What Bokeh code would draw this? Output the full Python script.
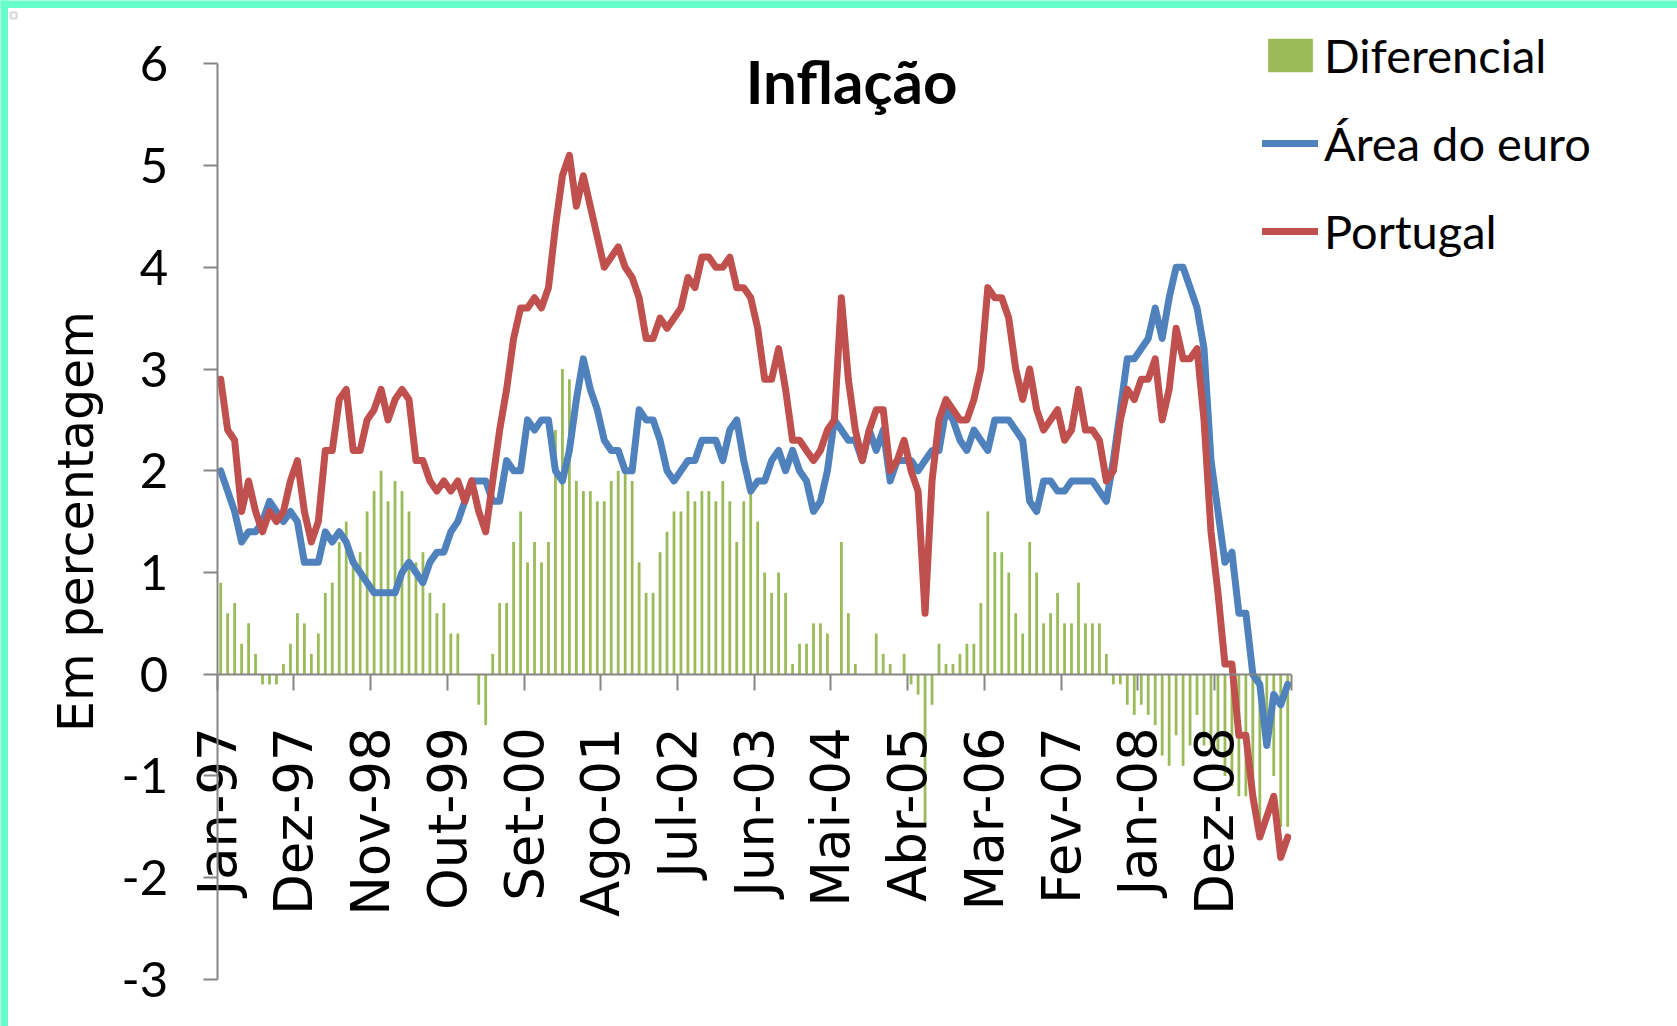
import numpy as np
from bokeh.plotting import figure
from bokeh.models import (Range1d, FixedTicker, Label, Legend, LegendItem,
                          ColumnDataSource, BoxAnnotation)
from bokeh.embed import file_html
from bokeh.resources import INLINE

# ---------------- data (monthly, Jan-97 .. Oct-09) ----------------
tick_labels = ["Jan-97", "Dez-97", "Nov-98", "Out-99", "Set-00", "Ago-01", "Jul-02",
               "Jun-03", "Mai-04", "Abr-05", "Mar-06", "Fev-07", "Jan-08", "Dez-08"]
label_step = 11

area_euro = [
    2.0, 1.8, 1.6, 1.3, 1.4, 1.4, 1.5, 1.7, 1.6, 1.5, 1.6, 1.5,
    1.1, 1.1, 1.1, 1.4, 1.3, 1.4, 1.3, 1.1, 1.0, 0.9, 0.8, 0.8,
    0.8, 0.8, 1.0, 1.1, 1.0, 0.9, 1.1, 1.2, 1.2, 1.4, 1.5, 1.7,
    1.9, 1.9, 1.9, 1.7, 1.7, 2.1, 2.0, 2.0, 2.5, 2.4, 2.5, 2.5,
    2.0, 1.9, 2.2, 2.7, 3.1, 2.8, 2.6, 2.3, 2.2, 2.2, 2.0, 2.0,
    2.6, 2.5, 2.5, 2.3, 2.0, 1.9, 2.0, 2.1, 2.1, 2.3, 2.3, 2.3,
    2.1, 2.4, 2.5, 2.1, 1.8, 1.9, 1.9, 2.1, 2.2, 2.0, 2.2, 2.0,
    1.9, 1.6, 1.7, 2.0, 2.5, 2.4, 2.3, 2.3, 2.1, 2.4, 2.2, 2.4,
    1.9, 2.1, 2.1, 2.1, 2.0, 2.1, 2.2, 2.2, 2.6, 2.5, 2.3, 2.2,
    2.4, 2.3, 2.2, 2.5, 2.5, 2.5, 2.4, 2.3, 1.7, 1.6, 1.9, 1.9,
    1.8, 1.8, 1.9, 1.9, 1.9, 1.9, 1.8, 1.7, 2.1, 2.6, 3.1, 3.1,
    3.2, 3.3, 3.6, 3.3, 3.7, 4.0, 4.0, 3.8, 3.6, 3.2, 2.1, 1.6,
    1.1, 1.2, 0.6, 0.6, 0.0, -0.1, -0.7, -0.2, -0.3, -0.1,
]

portugal = [
    2.9, 2.4, 2.3, 1.6, 1.9, 1.6, 1.4, 1.6, 1.5, 1.6, 1.9, 2.1,
    1.6, 1.3, 1.5, 2.2, 2.2, 2.7, 2.8, 2.2, 2.2, 2.5, 2.6, 2.8,
    2.5, 2.7, 2.8, 2.7, 2.1, 2.1, 1.9, 1.8, 1.9, 1.8, 1.9, 1.7,
    1.9, 1.6, 1.4, 1.9, 2.4, 2.8, 3.3, 3.6, 3.6, 3.7, 3.6, 3.8,
    4.4, 4.9, 5.1, 4.6, 4.9, 4.6, 4.3, 4.0, 4.1, 4.2, 4.0, 3.9,
    3.7, 3.3, 3.3, 3.5, 3.4, 3.5, 3.6, 3.9, 3.8, 4.1, 4.1, 4.0,
    4.0, 4.1, 3.8, 3.8, 3.7, 3.4, 2.9, 2.9, 3.2, 2.8, 2.3, 2.3,
    2.2, 2.1, 2.2, 2.4, 2.5, 3.7, 2.9, 2.4, 2.1, 2.4, 2.6, 2.6,
    2.0, 2.1, 2.3, 2.0, 1.8, 0.6, 1.9, 2.5, 2.7, 2.6, 2.5, 2.5,
    2.7, 3.0, 3.8, 3.7, 3.7, 3.5, 3.0, 2.7, 3.0, 2.6, 2.4, 2.5,
    2.6, 2.3, 2.4, 2.8, 2.4, 2.4, 2.3, 1.9, 2.0, 2.5, 2.8, 2.7,
    2.9, 2.9, 3.1, 2.5, 2.8, 3.4, 3.1, 3.1, 3.2, 2.5, 1.4, 0.8,
    0.1, 0.1, -0.6, -0.6, -1.2, -1.6, -1.4, -1.2, -1.8, -1.6,
]

diferencial = [
    0.9, 0.6, 0.7, 0.3, 0.5, 0.2, -0.1, -0.1, -0.1, 0.1, 0.3, 0.6,
    0.5, 0.2, 0.4, 0.8, 0.9, 1.3, 1.5, 1.1, 1.2, 1.6, 1.8, 2.0,
    1.7, 1.9, 1.8, 1.6, 1.1, 1.2, 0.8, 0.6, 0.7, 0.4, 0.4, 0.0,
    0.0, -0.3, -0.5, 0.2, 0.7, 0.7, 1.3, 1.6, 1.1, 1.3, 1.1, 1.3,
    2.4, 3.0, 2.9, 1.9, 1.8, 1.8, 1.7, 1.7, 1.9, 2.0, 2.0, 1.9,
    1.1, 0.8, 0.8, 1.2, 1.4, 1.6, 1.6, 1.8, 1.7, 1.8, 1.8, 1.7,
    1.9, 1.7, 1.3, 1.7, 1.9, 1.5, 1.0, 0.8, 1.0, 0.8, 0.1, 0.3,
    0.3, 0.5, 0.5, 0.4, 0.0, 1.3, 0.6, 0.1, 0.0, 0.0, 0.4, 0.2,
    0.1, 0.0, 0.2, -0.1, -0.2, -1.5, -0.3, 0.3, 0.1, 0.1, 0.2, 0.3,
    0.3, 0.7, 1.6, 1.2, 1.2, 1.0, 0.6, 0.4, 1.3, 1.0, 0.5, 0.6,
    0.8, 0.5, 0.5, 0.9, 0.5, 0.5, 0.5, 0.2, -0.1, -0.1, -0.3, -0.4,
    -0.3, -0.4, -0.5, -0.8, -0.9, -0.6, -0.9, -0.7, -0.4, -0.7, -0.7, -0.8,
    -1.0, -1.1, -1.2, -1.2, -1.2, -1.5, -0.7, -1.0, -1.5, -1.5,
]

y_ticks = [-3, -2, -1, 0, 1, 2, 3, 4, 5, 6]

# ---------------- layout (pixels of the page) ----------------
W, H = 1677, 1026
X0_PX, PX_MONTH = 216.7, 6.974      # where x = 0 sits, pixels per month
Y6_PX, PX_UNIT = 63.3, 101.74       # where y = 6 sits, pixels per unit


def xd(px):
    return (px - X0_PX) / PX_MONTH


def yd(px):
    return 6 - (px - Y6_PX) / PX_UNIT


n = len(area_euro)
src = ColumnDataSource(dict(x=np.arange(n) + 0.5, ea=area_euro, pt=portugal, dif=diferencial))

p = figure(width=W, height=H, output_backend="svg", toolbar_location=None,
           x_range=Range1d(xd(0), xd(W)), y_range=Range1d(yd(H), yd(0)),
           min_border_left=0, min_border_right=0, min_border_top=0, min_border_bottom=0)
p.xgrid.visible = False
p.ygrid.visible = False
p.outline_line_color = None
p.background_fill_color = "white"
p.border_fill_color = "white"

GREEN, BLUE, RED, GRAY = "#9BBB59", "#4F81BD", "#C0504D", "#868686"
TEAL = "#66FFCC"

# teal frame of the original picture (top and left edges) + small handle
p.add_layout(BoxAnnotation(left=xd(-50), right=xd(7.5), bottom=yd(H + 50), top=yd(-50),
                           fill_color=TEAL, fill_alpha=1, line_color=None))
p.add_layout(BoxAnnotation(left=xd(-50), right=xd(W + 50), bottom=yd(7.5), top=yd(-50),
                           fill_color=TEAL, fill_alpha=1, line_color=None))
p.add_layout(BoxAnnotation(left=xd(10), right=xd(16), bottom=yd(18), top=yd(12),
                           fill_color="white", fill_alpha=1, line_color="#808080",
                           line_width=2))

bars = p.vbar(x="x", top="dif", bottom=0, width=0.4, source=src,
              fill_color=GREEN, line_color=None)
l_ea = p.line("x", "ea", source=src, line_color=BLUE, line_width=7,
              line_join="round", line_cap="round")
l_pt = p.line("x", "pt", source=src, line_color=RED, line_width=7,
              line_join="round", line_cap="round")

# y axis (at x = 0)
ya = p.yaxis[0]
ya.fixed_location = 0
ya.bounds = (-3, 6)
ya.ticker = FixedTicker(ticks=y_ticks)
ya.major_label_overrides = {v: str(v) for v in y_ticks}
ya.axis_line_color = GRAY
ya.axis_line_width = 2
ya.major_tick_line_color = GRAY
ya.major_tick_line_width = 2
ya.major_tick_out = 14
ya.major_tick_in = 0
ya.minor_tick_line_color = None
ya.major_label_text_font = "Lato"
ya.major_label_text_font_size = "49px"
ya.major_label_text_color = "black"
ya.major_label_standoff = 35
ya.axis_label = "Em percentagem"
ya.axis_label_text_font = "DejaVu Sans"
ya.axis_label_text_font_size = "49px"
ya.axis_label_text_font_style = "normal"
ya.axis_label_text_color = "black"
ya.axis_label_standoff = 14

# x axis (at y = 0)
xa = p.xaxis[0]
xa.fixed_location = 0
xa.bounds = (0, n)
xt = list(range(0, n + 1, label_step))
xa.ticker = FixedTicker(ticks=xt)
ov = {t: "" for t in xt}
for i, lab in enumerate(tick_labels):
    ov[i * label_step] = lab
xa.major_label_overrides = ov
xa.major_label_orientation = np.pi / 2
xa.axis_line_color = GRAY
xa.axis_line_width = 2
xa.major_tick_line_color = GRAY
xa.major_tick_line_width = 2
xa.major_tick_out = 16
xa.major_tick_in = 0
xa.minor_tick_line_color = None
xa.major_label_text_font = "DejaVu Sans"
xa.major_label_text_font_size = "53px"
xa.major_label_text_color = "black"
xa.major_label_standoff = 37

# title
p.add_layout(Label(x=xd(851), y=yd(80.5), text="Inflação", text_align="center",
                   text_baseline="middle", text_font="Lato",
                   text_font_style="bold", text_font_size="60px", text_color="black"))

# legend
legend = Legend(items=[LegendItem(label="Diferencial", renderers=[bars]),
                       LegendItem(label="Área do euro", renderers=[l_ea]),
                       LegendItem(label="Portugal", renderers=[l_pt])],
                location=(1262, 767), glyph_width=56, glyph_height=42,
                label_standoff=6, spacing=32, padding=0, margin=0,
                border_line_color=None, background_fill_alpha=0,
                label_text_font="Lato", label_text_font_size="47px",
                label_text_color="black")
p.add_layout(legend)

open("out.html", "w").write(file_html(p, INLINE))
